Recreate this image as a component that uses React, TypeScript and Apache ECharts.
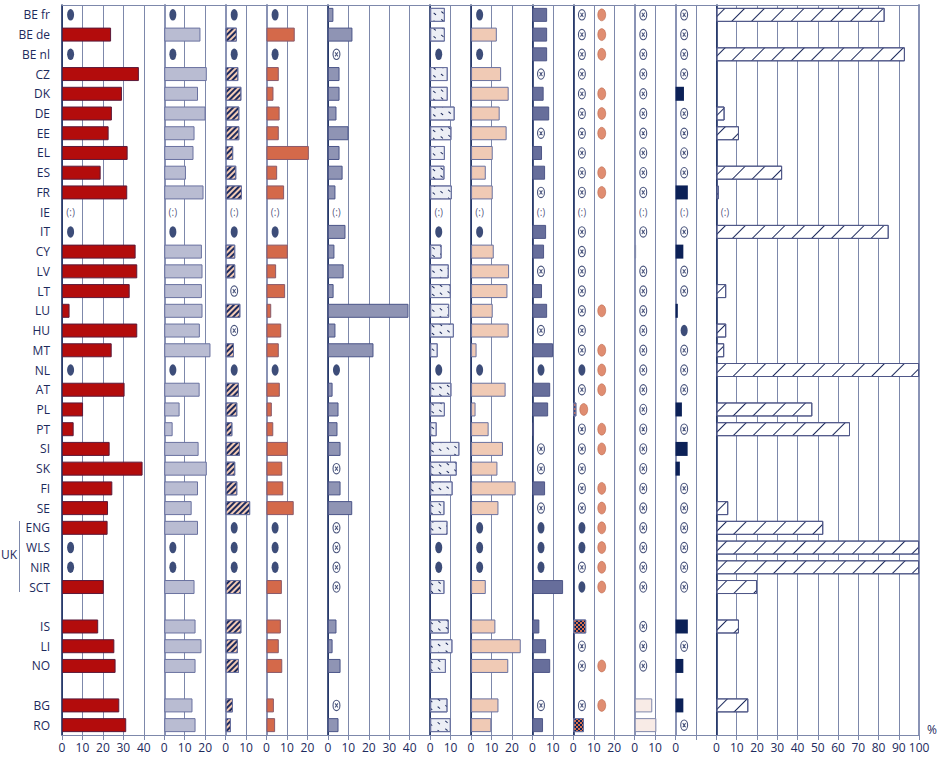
import React, { useEffect, useRef } from 'react';
import * as echarts from 'echarts';

// codes: number = bar value (%), D = dark dot, X = circled cross, NA = (:) not available, _ = empty
const D = 'd';
const X = 'x';
const NA = ':';
const _ = null;

const countries = ['BE fr', 'BE de', 'BE nl', 'CZ', 'DK', 'DE', 'EE', 'EL', 'ES', 'FR', 'IE', 'IT', 'CY', 'LV', 'LT', 'LU', 'HU', 'MT', 'NL', 'AT', 'PL', 'PT', 'SI', 'SK', 'FI', 'SE', 'ENG', 'WLS', 'NIR', 'SCT', 'gap-a', 'IS', 'LI', 'NO', 'gap-b', 'BG', 'RO'];

const panel1 = [D, 24, D, 37.6, 29.3, 24.4, 22.8, 32.1, 18.9, 31.9, NA, D, 36, 36.8, 33.1, 3.7, 36.8, 24.3, D, 30.6, 10.3, 5.7, 23.3, 39.4, 24.6, 22.5, 22.3, D, D, 20.4, _, 17.7, 25.6, 26.2, _, 28, 31.4];
const panel2 = [D, 17.7, D, 20.8, 16.5, 20.2, 14.8, 14.3, 10.6, 19.2, NA, D, 18.4, 18.7, 18.4, 18.7, 17.4, 22.6, D, 17.3, 7.5, 4.1, 16.8, 20.8, 16.5, 13.4, 16.5, D, D, 14.8, _, 15.3, 18.2, 15.3, _, 13.8, 15.3];
const panel3 = [D, 5.5, D, 6.2, 7.7, 6.7, 6.7, 3.7, 5.2, 8, NA, D, 4.7, 4.7, X, 7.2, X, 4.1, D, 6.5, 5.7, 3.3, 7.0, 4.7, 5.7, 12.0, D, D, D, 7.5, _, 7.7, 6.0, 6.5, _, 3.6, 2.6];
const panel4 = [D, 13.8, D, 6.0, 3.4, 6.4, 6.0, 20.7, 5.2, 8.6, NA, D, 10.4, 4.7, 9.1, 2.3, 7.2, 6.0, D, 6.5, 2.6, 3.3, 10.4, 7.7, 8.2, 13.3, D, D, D, 7.5, _, 7.0, 6.0, 7.7, _, 3.6, 4.2];
const panel5 = [2.7, 12.0, X, 5.7, 5.7, 4.2, 10.1, 5.7, 7.2, 3.7, NA, 8.6, 3.2, 7.7, 2.8, 39.4, 3.7, 22.3, D, 2.3, 5.2, 4.7, 6.2, X, 6.2, 11.9, X, X, X, X, _, 4.2, 2.3, 6.2, _, X, 5.2];
const panel6 = [7.2, 7.2, D, 8.6, 8.6, 12.0, 10.4, 7.2, 7.0, 10.6, NA, D, 5.6, 9.1, 10.1, 9.3, 11.6, 3.7, D, 10.4, 7.2, 3.2, 14.3, 13.0, 11.0, 7.0, 8.5, D, D, 7.0, _, 9.1, 10.9, 7.7, _, 8.5, 10.1];
const panel7 = [D, 12.6, D, 14.7, 18.4, 14.0, 17.4, 10.6, 7.2, 10.6, NA, D, 11.1, 18.6, 17.8, 10.6, 18.4, 2.7, D, 16.9, 2.2, 8.6, 15.6, 12.9, 21.8, 13.4, D, D, D, 7.2, _, 11.9, 24.3, 18.2, _, 13.4, 9.9];
const panel8 = [7.2, 7.2, 7.2, X, 5.5, 8.2, X, 4.7, 6.2, X, NA, 6.7, 5.7, X, 4.7, 7.2, X, 10.1, D, 8.7, 7.7, 0.8, X, X, 6.2, X, D, D, D, 15.0, _, 3.4, 6.7, 8.7, _, X, 5.2];
const panel9 = [X, X, X, X, X, X, X, X, X, X, NA, X, X, X, X, X, X, X, D, X, 1.5, X, X, X, X, X, D, D, X, D, _, 6.3, X, X, _, X, 5.2];
const panel9Orange = [1, 1, 1, 0, 1, 1, 1, 0, 1, 1, 0, 0, 0, 0, 0, 1, 0, 1, 1, 1, 1, 1, 1, 0, 1, 1, 1, 1, 1, 1, 0, 0, 0, 1, 0, 1, 0];
const panel10 = [X, X, X, X, X, X, X, X, X, X, NA, X, 0.7, X, X, X, X, X, X, X, X, X, X, X, X, X, X, X, X, X, _, X, X, X, _, 8.6, 10.6];
const panel11 = [X, X, X, X, 4.1, X, X, X, X, 6.0, NA, X, 3.8, X, X, 1.1, D, X, X, X, 3.1, X, 5.9, 2.1, X, X, X, X, X, X, _, 6.0, X, 3.8, _, 3.8, X];
const panel12 = [83, _, 93, _, _, 4.0, 11.1, _, 32.4, 1.1, NA, 85, _, _, 4.8, _, 4.8, 3.8, 100, _, 47.3, 65.9, _, _, _, 5.8, 52.7, 100, 100, 20, _, 11.1, _, _, _, 15.7, _];

const panelValues = [panel1, panel2, panel3, panel4, panel5, panel6, panel7, panel8, panel9, panel10, panel11, panel12];
const panelMax = [50, 30, 20, 30, 50, 20, 30, 20, 30, 20, 20, 100];
const panelTicks = [
  [0, 10, 20, 30, 40], [0, 10, 20], [0, 10], [0, 10, 20], [0, 10, 20, 30, 40], [0, 10],
  [0, 10, 20], [0, 10], [0, 10, 20], [0, 10], [0], [0, 10, 20, 30, 40, 50, 60, 70, 80, 90, 100],
];

// ---------- styling ----------
const NAVY = '#0c2157';
const INK = '#1d2a5c';
const GRIDC = '#7d88ab';
const AXIS_GRAY = '#8a93b5';
const FONT = 'Open Sans';
const LEFT0 = 62;
const SCALE = 859 / 420;
const MARK = 4.2;
const ORANGE_MARK = 13.9;

const hatchDense = { symbol: 'rect', symbolSize: 1, dashArrayX: [1, 0], dashArrayY: [1.2, 2], rotation: -Math.PI / 4, color: INK };
const hatchWide = { symbol: 'rect', symbolSize: 1, dashArrayX: [1, 0], dashArrayY: [1, 12.5], rotation: -Math.PI / 4, color: INK };
const dashes = { symbol: 'rect', symbolSize: 1, dashArrayX: [[2.5, 7], [0, 5, 2.5, 2]], dashArrayY: [1, 5], rotation: 0.7, color: INK };
const checker = { symbol: 'rect', symbolSize: 1, dashArrayX: [[1.5, 1.5], [0, 1.5, 1.5, 0]], dashArrayY: [1.5, 0], color: '#d8704d' };

const barStyles: any[] = [
  { color: '#b30c0c', borderColor: '#5b1a3a', borderWidth: 1 },
  { color: '#b9bcd2', borderColor: '#6a72a0', borderWidth: 1 },
  { color: '#f3cbb5', borderColor: '#6a72a0', borderWidth: 1, decal: hatchDense },
  { color: '#d4694a', borderColor: '#8a5a6a', borderWidth: 1 },
  { color: '#8f94b4', borderColor: '#4a5488', borderWidth: 1 },
  { color: '#eceef5', borderColor: '#6a72a0', borderWidth: 1, decal: dashes },
  { color: '#f0cab5', borderColor: '#6a72a0', borderWidth: 1 },
  { color: '#676e9b', borderColor: '#4f5788', borderWidth: 1 },
  { color: NAVY, borderColor: '#6a72a0', borderWidth: 1, decal: checker },
  { color: '#f8ebe6', borderColor: '#7f87ab', borderWidth: 1 },
  { color: NAVY, borderWidth: 0 },
  { color: '#ffffff', borderColor: '#4f5788', borderWidth: 1, decal: hatchWide },
];
const axisColors = [NAVY, AXIS_GRAY, AXIS_GRAY, AXIS_GRAY, NAVY, NAVY, NAVY, NAVY, NAVY, AXIS_GRAY, AXIS_GRAY, NAVY];

const ELLIPSE = 'path://M5 0A5 7 0 1 1 5 14A5 7 0 1 1 5 0Z';
const CROSS = 'path://M5 0A5 7 0 1 1 5 14A5 7 0 1 1 5 0ZM5 1.4A3.6 5.6 0 1 0 5 12.6A3.6 5.6 0 1 0 5 1.4ZM3.727 4.12L7.327 9.12L6.273 9.88L2.673 4.88ZM7.327 4.88L3.727 9.88L2.673 9.12L6.273 4.12Z';

function buildOption() {
  const grid: any[] = [];
  const xAxis: any[] = [];
  const yAxis: any[] = [];
  const series: any[] = [];
  let start = 0;
  panelValues.forEach((vals, k) => {
    const max = panelMax[k];
    grid.push({ left: LEFT0 + start * SCALE, width: max * SCALE, top: 5, height: 730 });
    start += max;
    const ticks = panelTicks[k];
    xAxis.push({
      type: 'value', gridIndex: k, min: 0, max, interval: 10, position: 'bottom',
      axisLine: { show: true, onZero: false, lineStyle: { color: GRIDC, width: 1 } },
      axisTick: { show: true, length: 5, lineStyle: { color: GRIDC } },
      axisLabel: { color: INK, fontSize: 12, fontFamily: FONT, margin: 6, formatter: (v: number) => (ticks.includes(v) ? String(v) : '') },
      splitLine: { show: true, lineStyle: { color: GRIDC, width: 1 } },
      ...(k === panelValues.length - 1
        ? { name: '%', nameLocation: 'end', nameGap: 8, nameTextStyle: { color: INK, fontSize: 12, fontFamily: FONT, verticalAlign: 'bottom', align: 'left' } }
        : {}),
    });
    xAxis.push({
      type: 'value', gridIndex: k, min: 0, max, position: 'top',
      axisLine: { show: true, onZero: false, lineStyle: { color: GRIDC, width: 1 } },
      axisTick: { show: false }, axisLabel: { show: false }, splitLine: { show: false },
    });
    yAxis.push({
      type: 'category', gridIndex: k, data: countries, inverse: true,
      axisLine: { show: true, onZero: false, lineStyle: { color: axisColors[k], width: axisColors[k] === NAVY ? 1.5 : 2 } },
      axisTick: { show: false }, splitLine: { show: false },
      axisLabel: k === 0
        ? { show: true, color: INK, fontSize: 12, fontFamily: FONT, margin: 12, formatter: (v: string) => (v.startsWith('gap') ? '' : v) }
        : { show: false },
    });
    const xi = 2 * k;
    series.push({
      type: 'bar', xAxisIndex: xi, yAxisIndex: k, barWidth: 14, z: 2,
      itemStyle: barStyles[k],
      data: vals.map((v) => (typeof v === 'number' ? v : '-')),
    });
    const pts = (code: string) => vals.map((v, i) => (v === code ? [MARK, i] : null)).filter(Boolean);
    series.push({
      type: 'scatter', xAxisIndex: xi, yAxisIndex: k, z: 4, symbol: ELLIPSE, symbolSize: [7, 11.5],
      itemStyle: { color: NAVY }, data: pts(D),
    });
    series.push({
      type: 'scatter', xAxisIndex: xi, yAxisIndex: k, z: 4, symbol: CROSS, symbolSize: [8, 11.5],
      itemStyle: { color: INK }, data: pts(X),
    });
    series.push({
      type: 'scatter', xAxisIndex: xi, yAxisIndex: k, z: 4, symbol: 'rect', symbolSize: 1,
      itemStyle: { color: 'rgba(0,0,0,0)' },
      label: { show: true, position: 'inside', formatter: '(:)', color: INK, fontSize: 10, fontFamily: FONT },
      data: pts(NA),
    });
    if (k === 8) {
      series.push({
        type: 'scatter', xAxisIndex: xi, yAxisIndex: k, z: 4, symbol: ELLIPSE, symbolSize: [8, 12],
        itemStyle: { color: '#d8704d', borderColor: '#b0583c', borderWidth: 0.6 },
        data: panel9Orange
          .map((f, i) => (f ? [typeof panel9[i] === 'number' ? (panel9[i] as number) + 3.6 : ORANGE_MARK, i] : null))
          .filter(Boolean),
      });
    }
  });
  yAxis.push({
    type: 'category', gridIndex: 11, data: countries, inverse: true, position: 'right',
    axisLine: { show: true, onZero: false, lineStyle: { color: AXIS_GRAY, width: 2 } },
    axisTick: { show: false }, axisLabel: { show: false }, splitLine: { show: false },
  });
  return {
    animation: false,
    backgroundColor: '#ffffff',
    grid, xAxis, yAxis, series,
    graphic: [
      { type: 'text', left: 1, top: 548, style: { text: 'UK', fill: INK, fontSize: 12, fontFamily: FONT } },
      { type: 'line', shape: { x1: 19.5, y1: 521, x2: 19.5, y2: 592 }, style: { stroke: GRIDC, lineWidth: 1 } },
    ],
  };
}

export default function App() {
  const ref = useRef<HTMLDivElement>(null);
  useEffect(() => {
    const chart = echarts.init(ref.current!, null, { renderer: 'svg' });
    chart.setOption(buildOption() as any);
    return () => chart.dispose();
  }, []);
  return <div ref={ref} style={{ position: 'fixed', left: 0, top: 0, width: 940, height: 758 }} />;
}
